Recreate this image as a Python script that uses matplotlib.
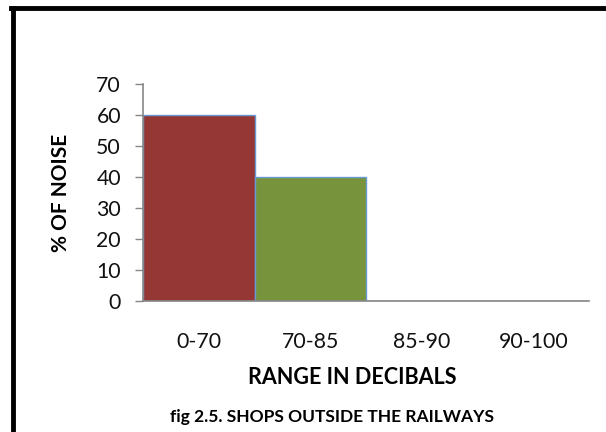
import matplotlib
matplotlib.use("Agg")
import matplotlib.pyplot as plt
from matplotlib.lines import Line2D

# data
ranges = ["0-70", "70-85", "85-90", "90-100"]
noise_pct = [60, 40, 0, 0]
bar_colors = ["#953735", "#77933C", "#4F81BD", "#4F81BD"]
y_ticks = [0, 10, 20, 30, 40, 50, 60, 70]

plt.rcParams['font.family'] = ['Lato', 'DejaVu Sans']

fig = plt.figure(figsize=(6.06, 4.32), dpi=100)
fig.patch.set_facecolor("white")
ax = fig.add_axes([143/606, 1 - 301/432, (589 - 143)/606, (301 - 84)/432])

x = range(len(ranges))
ax.bar(x, noise_pct, width=1.0, color=bar_colors,
       edgecolor="#6A9AD6", linewidth=1.0, zorder=2)

ax.set_xlim(-0.5, len(ranges) - 0.5)
ax.set_ylim(0, 70)
ax.set_yticks(y_ticks)
ax.set_xticks(list(x))
ax.set_xticklabels(ranges, fontsize=15.3, color="#111111")
ax.tick_params(axis='y', labelsize=15.3, length=5.8, width=1, color="#868686",
               direction='out', pad=10, labelcolor="#111111")
ax.tick_params(axis='x', length=0, pad=22)

for s in ["top", "right"]:
    ax.spines[s].set_visible(False)
for s in ["left", "bottom"]:
    ax.spines[s].set_color("#868686")
    ax.spines[s].set_linewidth(1.2)

ax.set_ylabel("% OF NOISE", fontsize=15, fontweight="bold", va="center")
ax.yaxis.set_label_coords((61 - 143)/446, 0.5)
ax.set_xlabel("RANGE IN DECIBALS", fontsize=15.5, fontweight="bold", va="center")
ax.xaxis.set_label_coords((352 - 143)/446, -(378 - 301)/217)

fig.text(332/606, 1 - 417/432, "fig 2.5. SHOPS OUTSIDE THE RAILWAYS",
         ha="center", va="center", fontsize=12.5, fontweight="bold")

# frame lines (top and left)
fig.add_artist(Line2D([12.5/606, 12.5/606], [0, 1 - 8/432], color="black",
                      linewidth=3.5, transform=fig.transFigure))
fig.add_artist(Line2D([11/606, 1], [1 - 8/432, 1 - 8/432], color="black",
                      linewidth=3.5, transform=fig.transFigure))

fig.savefig("out.png", dpi=100, facecolor="white")
